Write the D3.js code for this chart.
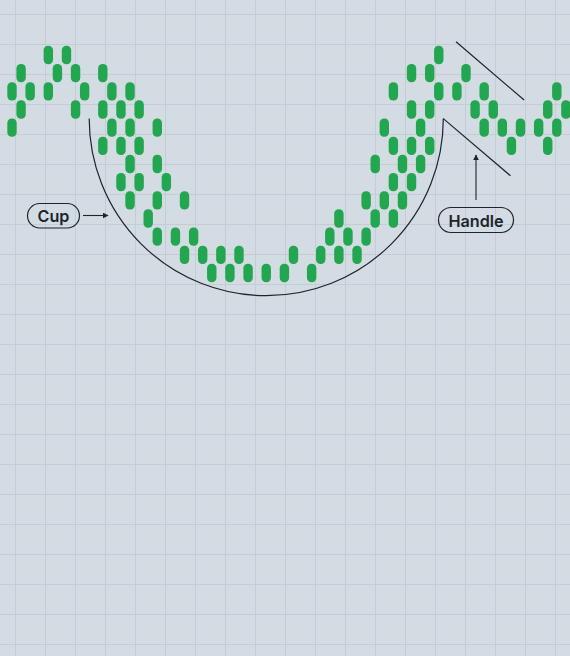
<!DOCTYPE html>
<html>
<head>
<meta charset="utf-8">
<script src="https://cdn.jsdelivr.net/npm/d3@7"></script>
<style>
  html, body { margin: 0; padding: 0; background: #d3dce3; }
  svg { display: block; }
</style>
</head>
<body>
<svg id="chart"></svg>
<script>
// columns of the pattern (index along the time axis) and the levels where a bar sits
const colIndex = [0, 1, 2, 4, 5, 6, 7, 8, 10, 11, 12, 13, 14, 15, 16, 17, 18, 19, 20, 21, 22, 23, 24, 25, 26, 28, 30,
    31, 33, 34, 35, 36, 37, 38, 39, 40, 41, 42, 43, 44, 45, 46, 47, 49, 50, 51, 52, 53, 54, 55, 56, 58, 59, 60, 61];
const colLevels = [[2, 4], [1, 3], [2], [0, 2], [1], [0], [1, 3], [2], [1, 3, 5], [2, 4], [3, 5, 7], [2, 4, 6, 8], [3, 5, 7],
    [9], [4, 6, 8, 10], [7], [10], [8, 11], [10], [11], [12], [11], [12], [11], [12], [12], [12],
    [11], [12], [11], [10], [9, 11], [10], [11], [8, 10], [6, 9], [4, 8], [2, 5, 7, 9], [6, 8], [1, 3, 5, 7], [4, 6], [1, 3, 5], [0, 2],
    [2], [1], [3], [2, 4], [3], [4], [5], [4], [4], [3, 5], [2, 4], [3]];

// annotations in the same units (column, level)
const cupCenter = [28, 3.5];
const cupEnds = [8.5, 47.5];
const cupBottom = 13.25;
const handleLower = [[47.5, 3.5], [54.9, 6.65]];
const handleUpper = [[48.9, -0.73], [56.4, 2.48]];
const labels = [
    { text: 'Cup', box: [27.5, 203.5, 52, 24.5], arrow: [[83, 215.5], [108, 215.5]] },
    { text: 'Handle', box: [438.5, 207.5, 75, 25], arrow: [[476, 200], [476, 155]] }
];

const width = 570;
const height = 656;
const green = '#22a650';
const ink = '#1d242b';

let svg = d3.select('#chart').attr('width', width).attr('height', height);

svg.append('rect').attr('width', width).attr('height', height).attr('fill', '#d3dce3');

// background grid
let grid = svg.append('g').attr('stroke', '#c4cdd6').attr('stroke-width', 1);
d3.range(15, width, 30).forEach(gx => {
    grid.append('line').attr('x1', gx + 0.5).attr('x2', gx + 0.5).attr('y1', 0).attr('y2', height);
});
d3.range(14, height, 30).forEach(gy => {
    grid.append('line').attr('y1', gy + 0.5).attr('y2', gy + 0.5).attr('x1', 0).attr('x2', width);
});

let x = d3.scaleLinear().domain([0, 61]).range([12, 565.9]);
let y = d3.scaleLinear().domain([0, 12]).range([55, 273]);

let bars = [];
colIndex.forEach((c, i) => {
    colLevels[i].forEach(l => bars.push({ col: c, level: l }));
});

const barW = 9.4;
const barH = 18.4;

svg.append('g')
    .selectAll('rect')
    .data(bars)
    .enter()
    .append('rect')
    .attr('x', d => x(d.col) - barW / 2)
    .attr('y', d => y(d.level) - barH / 2)
    .attr('width', barW)
    .attr('height', barH)
    .attr('rx', 4.5)
    .attr('fill', green);

// cup
let cx = x(cupCenter[0]);
let cy = y(cupCenter[1]);
let rx = x(cupEnds[1]) - cx;
let ry = y(cupBottom) - cy;
svg.append('path')
    .attr('d', `M${x(cupEnds[0])},${cy} A${rx},${ry} 0 0 0 ${x(cupEnds[1])},${cy}`)
    .attr('fill', 'none')
    .attr('stroke', ink)
    .attr('stroke-width', 1.2);

// handle lines
[handleLower, handleUpper].forEach(seg => {
    svg.append('line')
        .attr('x1', x(seg[0][0])).attr('y1', y(seg[0][1]))
        .attr('x2', x(seg[1][0])).attr('y2', y(seg[1][1]))
        .attr('stroke', ink)
        .attr('stroke-width', 1.2);
});

svg.append('defs').append('marker')
    .attr('id', 'head')
    .attr('viewBox', '0 0 10 10')
    .attr('refX', 9).attr('refY', 5)
    .attr('markerWidth', 6).attr('markerHeight', 6)
    .attr('markerUnits', 'userSpaceOnUse')
    .attr('orient', 'auto')
    .append('path')
    .attr('d', 'M0,0 L10,5 L0,10 Z')
    .attr('fill', ink);

labels.forEach(lb => {
    let g = svg.append('g');
    let [bx, by, bw, bh] = lb.box;
    g.append('rect')
        .attr('x', bx).attr('y', by)
        .attr('width', bw).attr('height', bh)
        .attr('rx', bh / 2)
        .attr('fill', 'none')
        .attr('stroke', ink)
        .attr('stroke-width', 1.2);
    g.append('text')
        .attr('x', bx + bw / 2).attr('y', by + bh / 2 + 0.5)
        .attr('text-anchor', 'middle')
        .attr('dominant-baseline', 'central')
        .attr('font-family', 'Inter, "Noto Sans", sans-serif')
        .attr('font-weight', 600)
        .attr('font-size', 16.2)
        .attr('fill', ink)
        .text(lb.text);
    g.append('line')
        .attr('x1', lb.arrow[0][0]).attr('y1', lb.arrow[0][1])
        .attr('x2', lb.arrow[1][0]).attr('y2', lb.arrow[1][1])
        .attr('stroke', ink)
        .attr('stroke-width', 1.1)
        .attr('marker-end', 'url(#head)');
});
</script>
</body>
</html>
